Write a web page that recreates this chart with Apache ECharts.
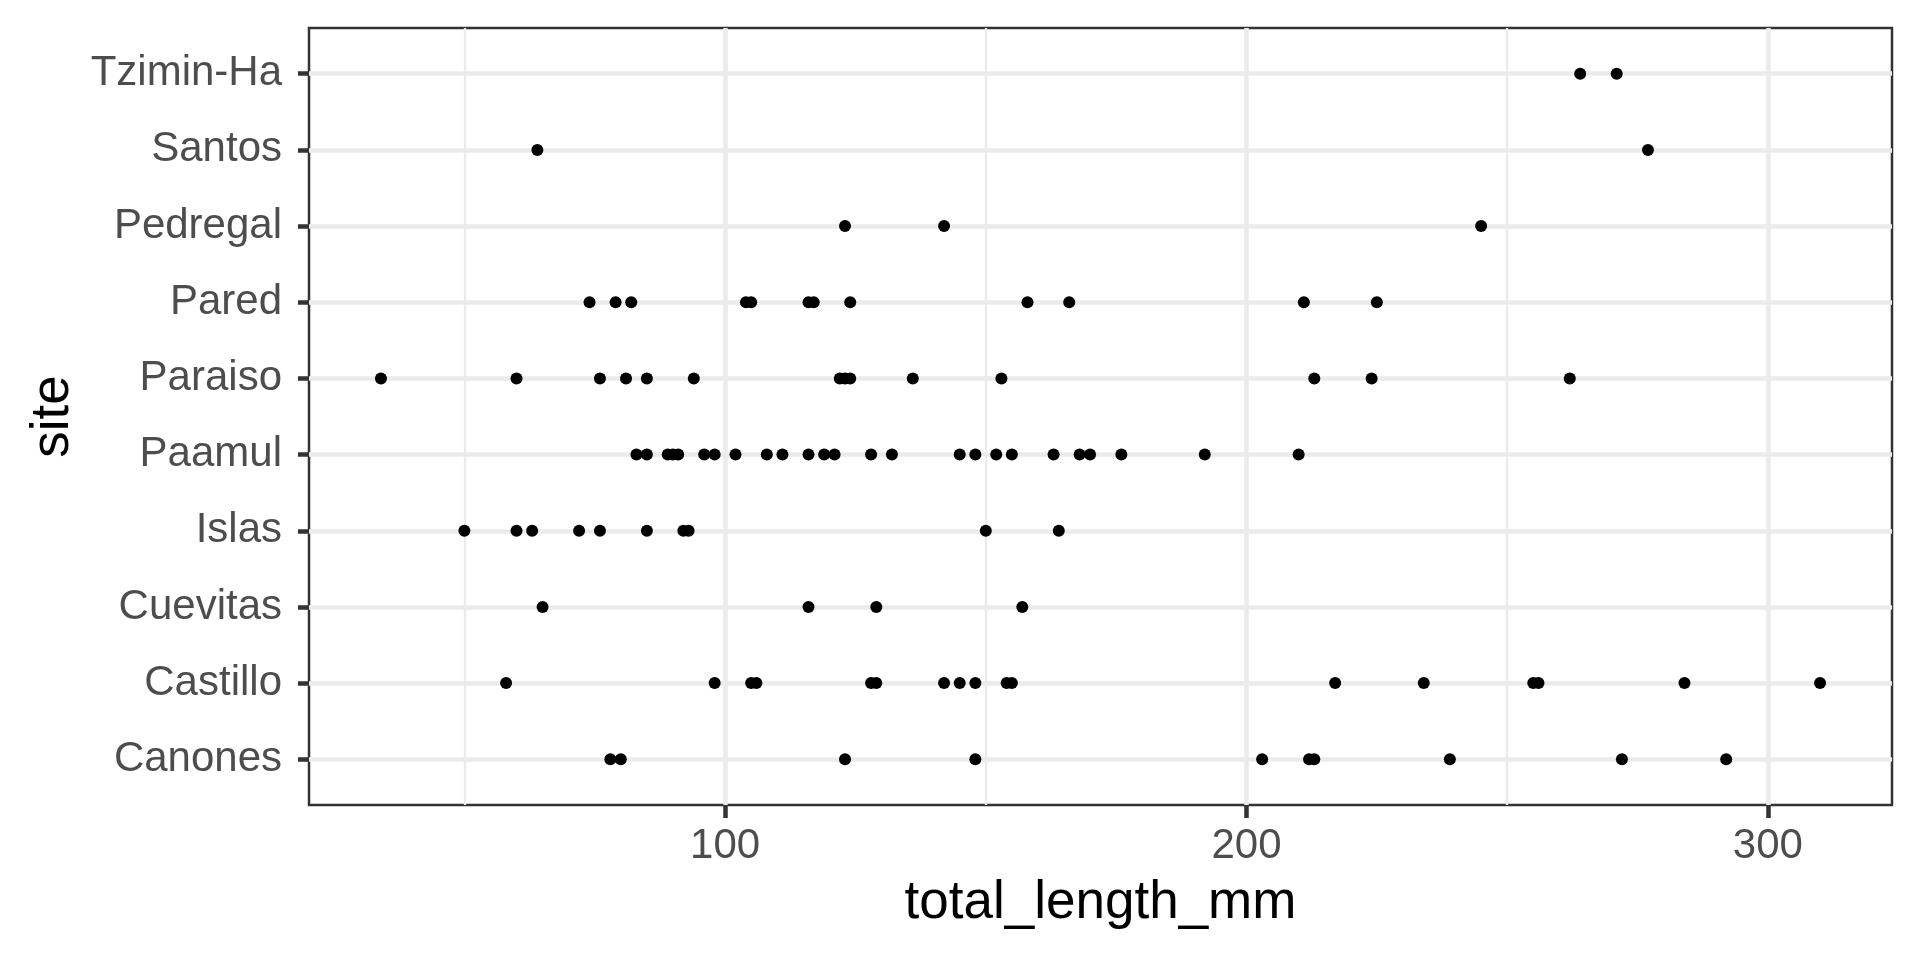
<!DOCTYPE html>
<html>
<head>
<meta charset="utf-8">
<script src="https://cdn.jsdelivr.net/npm/echarts@6/dist/echarts.min.js"></script>
<style>
  html, body { margin: 0; padding: 0; background: #fff; }
  #chart { width: 1920px; height: 960px; }
</style>
</head>
<body>
<div id="chart"></div>
<script>
// Sites, bottom to top
const sites = ["Canones", "Castillo", "Cuevitas", "Islas", "Paamul", "Paraiso", "Pared", "Pedregal", "Santos", "Tzimin-Ha"];

// total_length_mm per site
const canones  = [78, 80, 123, 148, 203, 212, 213, 239, 272, 292];
const castillo = [58, 98, 105, 106, 128, 129, 142, 145, 148, 154, 155, 217, 234, 255, 256, 284, 310];
const cuevitas = [65, 116, 129, 157];
const islas    = [50, 60, 63, 72, 76, 85, 92, 93, 150, 164];
const paamul   = [83, 85, 89, 90, 91, 96, 98, 102, 108, 111, 116, 119, 121, 128, 132, 145, 148, 152, 155, 163, 168, 170, 176, 192, 210];
const paraiso  = [34, 60, 76, 81, 85, 94, 122, 123, 124, 136, 153, 213, 224, 262];
const pared    = [74, 79, 82, 104, 105, 116, 117, 124, 158, 166, 211, 225];
const pedregal = [123, 142, 245];
const santos   = [64, 277];
const tziminHa = [264, 271];

const valuesBySite = [canones, castillo, cuevitas, islas, paamul, paraiso, pared, pedregal, santos, tziminHa];

// Axis breaks
const xMajorBreaks = [100, 200, 300];
const xMinorBreaks = [50, 150, 250];
const yPositions = sites.map((s, i) => i + 1);

// Build points
const points = [];
valuesBySite.forEach((vals, i) => {
  vals.forEach(v => points.push([v, i + 1]));
});

// ggplot-like expansion
const allVals = valuesBySite.flat();
const xmin = Math.min(...allVals), xmax = Math.max(...allVals);
const xpad = (xmax - xmin) * 0.05;

const FONT = '"Liberation Sans", Arial, Helvetica, sans-serif';
const GRID_COL = '#EBEBEB';

const chart = echarts.init(document.getElementById('chart'), null, { renderer: 'canvas' });
chart.setOption({
  animation: false,
  backgroundColor: '#ffffff',
  grid: {
    left: 309, right: 28, top: 28, bottom: 155,
    show: true, borderColor: '#333333', borderWidth: 2.5, backgroundColor: 'transparent'
  },
  xAxis: {
    type: 'value',
    min: xmin - xpad,
    max: xmax + xpad,
    name: 'total_length_mm',
    nameLocation: 'middle',
    nameGap: 72,
    nameTextStyle: { color: '#000000', fontSize: 53, fontFamily: FONT },
    axisLine: { show: false },
    axisTick: { show: true, length: 13, customValues: xMajorBreaks, lineStyle: { color: '#333333', width: 4.5 } },
    axisLabel: { customValues: xMajorBreaks, color: '#4D4D4D', fontSize: 42, fontFamily: FONT, margin: 20 },
    splitLine: { show: true, lineStyle: { color: GRID_COL, width: 4.5 } }
  },
  yAxis: {
    type: 'value',
    min: 0.4,
    max: sites.length + 0.6,
    name: 'site',
    nameLocation: 'middle',
    nameGap: 228,
    nameTextStyle: { color: '#000000', fontSize: 53, fontFamily: FONT },
    axisLine: { show: false },
    axisTick: { show: true, length: 11, customValues: yPositions, lineStyle: { color: '#333333', width: 4.5 } },
    axisLabel: {
      customValues: yPositions,
      color: '#4D4D4D', fontSize: 42, fontFamily: FONT, margin: 27,
      formatter: v => sites[Math.round(v) - 1] || ''
    },
    splitLine: { show: true, lineStyle: { color: GRID_COL, width: 4.5 } }
  },
  series: [
    {
      type: 'scatter',
      data: [],
      z: 1,
      silent: true,
      markLine: {
        silent: true,
        symbol: ['none', 'none'],
        label: { show: false },
        lineStyle: { color: GRID_COL, width: 2.3, type: 'solid' },
        data: xMinorBreaks.map(v => ({ xAxis: v }))
      }
    },
    {
      type: 'scatter',
      data: points,
      z: 5,
      symbol: 'circle',
      symbolSize: 12,
      itemStyle: { color: '#000000', opacity: 1 }
    }
  ]
});
</script>
</body>
</html>
